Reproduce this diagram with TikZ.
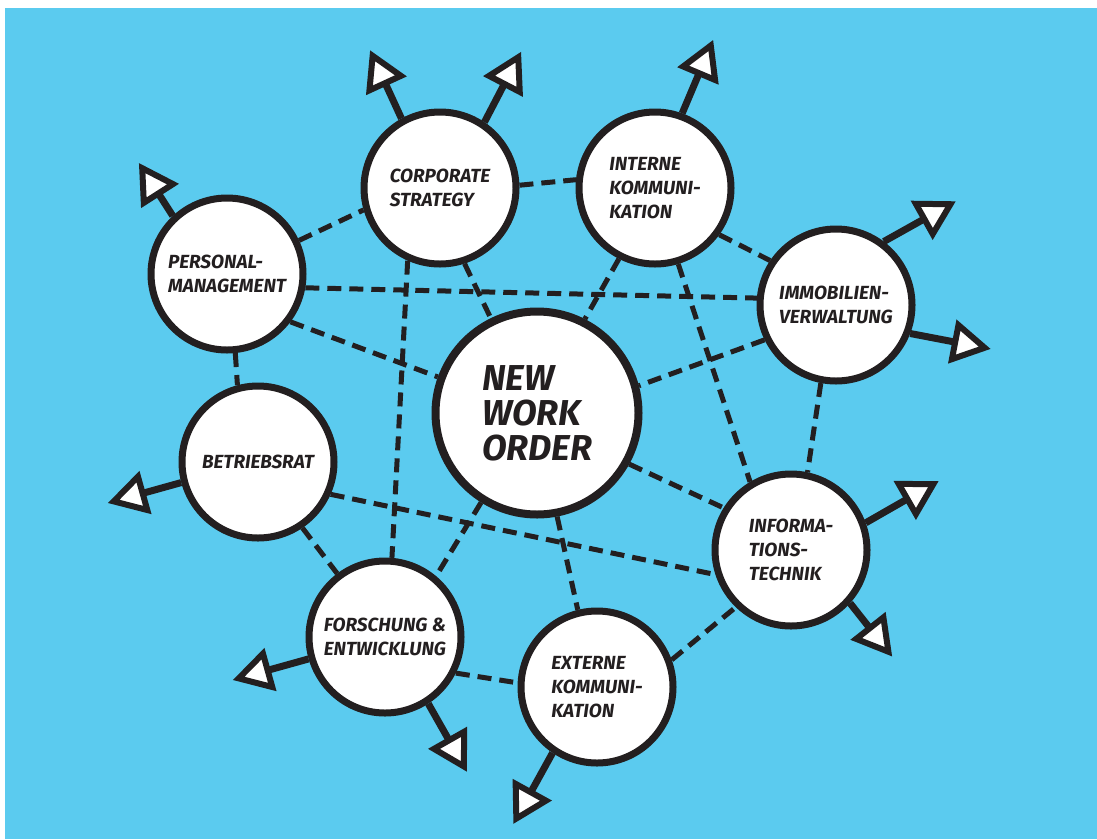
\documentclass[tikz,border=0pt]{standalone}
\usepackage{fontspec}
\newfontfamily\hand{Fira Sans}
\usetikzlibrary{shapes.geometric}
\definecolor{bgblue}{RGB}{91,203,239}
\definecolor{ink}{RGB}{35,31,32}
\tikzset{
  topic/.style={circle, draw=ink, fill=white, line width=7pt, minimum size=152pt, inner sep=0pt,
    align=left, text=ink, font=\hand\bfseries\itshape\fontsize{19}{24}\selectfont},
  core/.style={topic, minimum size=203pt, line width=8pt, font=\hand\bfseries\itshape\fontsize{36}{35}\selectfont},
  link/.style={draw=ink, line width=5pt, dash pattern=on 14pt off 8pt},
  armline/.style={draw=ink, line width=7pt},
  tri/.style={regular polygon, regular polygon sides=3, draw=ink, fill=white, line width=6pt,
    minimum size=40pt, inner sep=0pt, sloped, allow upside down, rotate=-90, pos=1}
}
\begin{document}
\begin{tikzpicture}[x=1pt, y=-1pt]
\useasboundingbox (0,0) rectangle (1097,839);
\fill[bgblue] (5,8) rectangle (1097,839);

\node[core]  (nwo)  at (537,413) {NEW\\WORK\\ORDER};
\node[topic] (corp) at (440,188) {CORPORATE\\STRATEGY};
\node[topic] (ik)   at (655,188) {INTERNE\\KOMMUNI-\\KATION};
\node[topic] (pm)   at (227,274) {PERSONAL-\\MANAGEMENT};
\node[topic] (imm)  at (836,305) {IMMOBILIEN-\\VERWALTUNG};
\node[topic] (br)   at (258,462) {BETRIEBSRAT};
\node[topic] (it)   at (791,550) {INFORMA-\\TIONS-\\TECHNIK};
\node[topic] (fe)   at (385,637) {FORSCHUNG \&\\ENTWICKLUNG};
\node[topic] (ek)   at (597,687) {EXTERNE\\KOMMUNI-\\KATION};

% dashed connectors
\draw[link] (pm.25)   -- (corp.196);
\draw[link] (corp.2)  -- (ik.174);
\draw[link] (ik.-36)  -- (imm.146);
\draw[link] (pm.-10)  -- (imm.175);
\draw[link] (pm.-37)  -- (nwo.160);
\draw[link] (pm.-84)  -- (br.105);
\draw[link] (corp.-72) -- (nwo.116);
\draw[link] (corp.-114) -- (fe.85);
\draw[link] (ik.-117) -- (nwo.63);
\draw[link] (ik.-73)  -- (it.121);
\draw[link] (imm.-154) -- (nwo.15);
\draw[link] (imm.-101) -- (it.78);
\draw[link] (nwo.-29) -- (it.148);
\draw[link] (br.-24)  -- (it.-162);
\draw[link] (br.-56)  -- (fe.127);
\draw[link] (nwo.-122) -- (fe.50);
\draw[link] (nwo.-79) -- (ek.104);
\draw[link] (fe.-27)  -- (ek.177);
\draw[link] (ek.20)   -- (it.-134);

% outgoing arrows
\coordinate (a1) at (381,74);
\coordinate (a2) at (509,75);
\coordinate (a3) at (703,64);
\coordinate (a4) at (153,185);
\coordinate (a5) at (933,214);
\coordinate (a6) at (965,344);
\coordinate (a7) at (133,496);
\coordinate (a8) at (916,494);
\coordinate (a9) at (876,636);
\coordinate (a10) at (258,673);
\coordinate (a11) at (454,749);
\coordinate (a12) at (526,801);
\draw[armline] (corp.119.6) -- (a1) node[tri] (t1) {};
\draw[armline] (corp.56.9)  -- (a2) node[tri] (t2) {};
\draw[armline] (ik.70.4)    -- (a3) node[tri] (t3) {};
\draw[armline] (pm.133.5)   -- (a4) node[tri] (t4) {};
\draw[armline] (imm.53)     -- (a5) node[tri] (t5) {};
\draw[armline] (imm.-21.4)  -- (a6) node[tri] (t6) {};
\draw[armline] (br.-165.3)  -- (a7) node[tri] (t7) {};
\draw[armline] (it.20.7)    -- (a8) node[tri] (t8) {};
\draw[armline] (it.-42.9)   -- (a9) node[tri] (t9) {};
\draw[armline] (fe.-164.4)  -- (a10) node[tri] (t10) {};
\draw[armline] (fe.-57.7)   -- (a11) node[tri] (t11) {};
\draw[armline] (ek.-124.3)  -- (a12) node[tri] (t12) {};
\end{tikzpicture}
\end{document}
